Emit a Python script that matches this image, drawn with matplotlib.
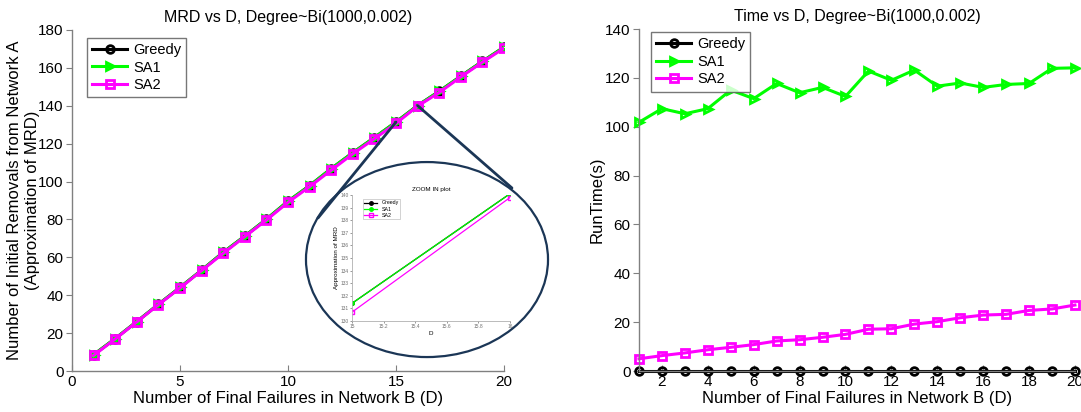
import matplotlib
matplotlib.use('Agg')
import matplotlib.pyplot as plt
from matplotlib.patches import Ellipse, ConnectionPatch

plt.rcParams['font.family'] = ['Liberation Sans', 'DejaVu Sans']

# Failures in network B
D = list(range(1, 21))

# MRD approximations (left plot)
mrdGreedy = [8.6, 17.1, 26.1, 35.2, 44.1, 53.2, 62.6, 71.2, 80.1, 89.6,
             97.8, 106.8, 115.2, 123.2, 131.4, 140.1, 147.6, 155.6, 163.4, 170.9]
mrdSA1 = [8.6, 17.1, 26.1, 35.2, 44.1, 53.2, 62.6, 71.2, 80.1, 89.6,
          97.8, 106.8, 115.2, 123.2, 131.4, 140.1, 147.6, 155.6, 163.4, 170.9]
mrdSA2 = [8.2, 16.9, 25.9, 35.0, 43.8, 53.0, 62.1, 70.9, 79.7, 89.0,
          97.3, 106.0, 114.6, 122.6, 130.7, 139.8, 147.0, 155.2, 163.0, 170.4]

# Run times in seconds (right plot)
timeGreedy = [0.05] * 20
timeSA1 = [101.8, 107.4, 105.3, 107.4, 115.0, 111.5, 117.7, 113.9, 116.1, 112.4,
           122.8, 119.0, 123.2, 116.6, 117.9, 116.1, 117.3, 117.7, 123.9, 124.1]
timeSA2 = [5.0, 6.3, 7.4, 8.7, 9.7, 10.8, 12.3, 12.8, 13.8, 15.0,
           17.1, 17.3, 19.2, 20.2, 21.8, 22.9, 23.2, 24.8, 25.4, 27.0]

# zoomed segment
zoomD = [15, 16]
zoomSA1 = mrdSA1[14:16]
zoomSA2 = mrdSA2[14:16]

fig = plt.figure(figsize=(10.81, 4.12), dpi=100)
spineColor = '#808080'
green = '#00ff00'
pink = '#ff00ff'

def styleAxes(ax, fs=11):
    for s in ['top', 'right']:
        ax.spines[s].set_visible(False)
    for s in ['left', 'bottom']:
        ax.spines[s].set_color(spineColor)
        ax.spines[s].set_linewidth(1.0)
    ax.tick_params(axis='x', direction='in', length=4, color=spineColor, labelsize=fs, pad=3)
    ax.tick_params(axis='y', direction='out', length=4, color=spineColor, labelsize=fs, pad=2)

lineArgs = dict(linewidth=2.2, markersize=5.5, markeredgewidth=2, markerfacecolor='none')
legArgs = dict(loc='upper left', fontsize=10.5, fancybox=False, handlelength=2.4,
               borderpad=0.35, labelspacing=0.25, handletextpad=0.4, borderaxespad=0)

# Left plot
ax1 = fig.add_axes([0.0666, 0.0995, 0.3996, 0.8277])
ax1.plot(D, mrdGreedy, color='black', marker='o', label='Greedy', **lineArgs)
ax1.plot(D, mrdSA1, color=green, marker='>', label='SA1', **lineArgs)
ax1.plot(D, mrdSA2, color=pink, marker='s', label='SA2', **lineArgs)
ax1.set_xlim(0, 20)
ax1.set_ylim(0, 180)
ax1.set_xticks([0, 5, 10, 15, 20])
ax1.set_yticks(range(0, 181, 20))
ax1.set_title('MRD vs D, Degree~Bi(1000,0.002)', fontsize=11.5, pad=6)
ax1.set_xlabel('Number of Final Failures in Network B (D)', fontsize=12, labelpad=1)
ax1.set_ylabel('Number of Initial Removals from Network A\n(Approximation of MRD)',
               fontsize=12, linespacing=1.25)
ax1.yaxis.set_label_coords(-0.074, 0.5)
styleAxes(ax1)
leg1 = ax1.legend(bbox_to_anchor=(0.035, 0.977), **legArgs)
leg1.get_frame().set_edgecolor('#555555')
leg1.get_frame().set_linewidth(1.0)

# Right plot
ax2 = fig.add_axes([0.5911, 0.0995, 0.4033, 0.8301])
ax2.plot(D, timeGreedy, color='black', marker='o', label='Greedy', **lineArgs)
ax2.plot(D, timeSA1, color=green, marker='>', label='SA1', **lineArgs)
ax2.plot(D, timeSA2, color=pink, marker='s', label='SA2', **lineArgs)
ax2.set_xlim(1, 20)
ax2.set_ylim(0, 140)
ax2.set_xticks(range(2, 21, 2))
ax2.set_yticks(range(0, 141, 20))
ax2.set_title('Time vs D, Degree~Bi(1000,0.002)', fontsize=11.5, pad=6)
ax2.set_xlabel('Number of Final Failures in Network B (D)', fontsize=12, labelpad=1)
ax2.set_ylabel('RunTime(s)', fontsize=12)
ax2.yaxis.set_label_coords(-0.078, 0.5)
styleAxes(ax2)
for c in ax2.lines:
    c.set_clip_on(False)
leg2 = ax2.legend(bbox_to_anchor=(0.0275, 0.991), **legArgs)
leg2.get_frame().set_edgecolor('#555555')
leg2.get_frame().set_linewidth(1.0)

# Zoom-in inset
ins = fig.add_axes([0.3256, 0.2209, 0.1462, 0.3058])
ins.plot(zoomD, zoomSA1, color='black', marker='o', label='Greedy', linewidth=0.9, markersize=2.5)
ins.plot(zoomD, zoomSA1, color=green, marker='o', label='SA1', linewidth=0.9, markersize=2.5)
ins.plot(zoomD, zoomSA2, color=pink, marker='s', label='SA2', linewidth=0.9, markersize=2.5,
         markerfacecolor='none')
ins.set_xlim(15, 16)
ins.set_ylim(130, 140)
ins.set_xticks([15, 15.2, 15.4, 15.6, 15.8, 16])
ins.set_xticklabels(['15', '15.2', '15.4', '15.6', '15.8', '16'])
ins.set_yticks(range(130, 141))
ins.set_title('ZOOM IN plot', fontsize=4.5, pad=3)
ins.set_xlabel('D', fontsize=4.5, labelpad=1)
ins.set_ylabel('Approximation of MRD', fontsize=4.5, labelpad=1)
for s in ['top', 'right']:
    ins.spines[s].set_visible(False)
for s in ['left', 'bottom']:
    ins.spines[s].set_color('#b0b0b0')
    ins.spines[s].set_linewidth(0.6)
ins.tick_params(labelsize=3.5, length=1.5, width=0.5, colors='#707070', pad=1)
legi = ins.legend(loc='upper left', fontsize=3.8, fancybox=False, handlelength=2.5,
                  borderpad=0.3, labelspacing=0.2, bbox_to_anchor=(0.05, 0.99))
legi.get_frame().set_edgecolor('#b0b0b0')
legi.get_frame().set_linewidth(0.5)

# Ellipse and connectors
navy = '#1b3656'
ell = Ellipse((0.395, 0.370), 0.2239, 0.4733, transform=fig.transFigure,
              facecolor='none', edgecolor=navy, linewidth=1.6)
fig.patches.append(ell)
con1 = ConnectionPatch(xyA=(15, mrdSA1[14]), coordsA=ax1.transData,
                       xyB=(0.2942, 0.4709), coordsB=fig.transFigure,
                       color=navy, linewidth=2)
con2 = ConnectionPatch(xyA=(16, mrdSA1[15]), coordsA=ax1.transData,
                       xyB=(0.4736, 0.5437), coordsB=fig.transFigure,
                       color=navy, linewidth=2)
fig.add_artist(con1)
fig.add_artist(con2)

fig.savefig('out.png', dpi=100)
